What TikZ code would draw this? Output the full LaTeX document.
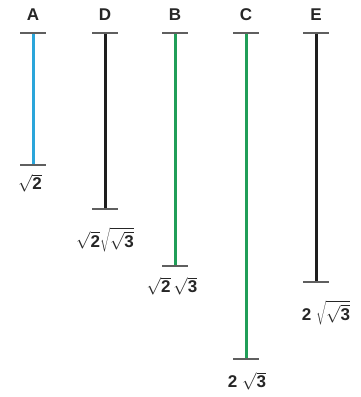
\documentclass[tikz,border=0pt]{standalone}
\usepackage{fontspec}
\setmainfont{Liberation Sans}
\definecolor{barblue}{RGB}{42,165,218}
\definecolor{bargreen}{RGB}{32,158,88}
\definecolor{barblack}{RGB}{30,30,30}
\definecolor{tickgray}{RGB}{95,95,95}

\begin{document}
\begin{tikzpicture}[x=1pt,y=-1pt,
  lbl/.style={font=\bfseries\fontsize{17}{19}\selectfont, text=black!85, inner sep=1pt},
  bar/.style={line width=3pt},
  tickline/.style={draw=tickgray, line width=1.2pt}]
\useasboundingbox (0,0) rectangle (360,397);

% top letters
\node (A) at (33,15) [lbl] {A};
\node (D) at (105,15) [lbl] {D};
\node (B) at (175,15) [lbl] {B};
\node (C) at (246,15) [lbl] {C};
\node (E) at (316,15) [lbl] {E};

% bar ends
\coordinate (A0) at (33,33);  \coordinate (A1) at (33,165);
\coordinate (D0) at (105,33); \coordinate (D1) at (105,209);
\coordinate (B0) at (175,33); \coordinate (B1) at (175,266);
\coordinate (C0) at (246,33); \coordinate (C1) at (246,359);
\coordinate (E0) at (316,33); \coordinate (E1) at (316,282);

% lengths
\node (a) at (30,183) [lbl] {$\sqrt{\hbox{2}}$};
\node (d) at (105,240) [lbl] {$\sqrt{\hbox{2}}\sqrt{\sqrt{\hbox{3}}}$};
\node (b) at (172,286) [lbl] {$\sqrt{\hbox{2}}\,\sqrt{\hbox{3}}$};
\node (c) at (247,381) [lbl] {2 $\sqrt{\hbox{3}}$};
\node (e) at (326,313) [lbl] {2 $\sqrt{\sqrt{\hbox{3}}}$};

\draw[bar, barblue] (A0) to (A1);
\draw[bar, barblack] (D0) to (D1);
\draw[bar, bargreen] (B0) to (B1);
\draw[bar, bargreen] (C0) to (C1);
\draw[bar, barblack] (E0) to (E1);

\foreach \p in {A0,A1,D0,D1,B0,B1,C0,C1,E0,E1}
  \draw[tickline] ([xshift=-13]\p) -- ([xshift=13]\p);
\end{tikzpicture}
\end{document}
